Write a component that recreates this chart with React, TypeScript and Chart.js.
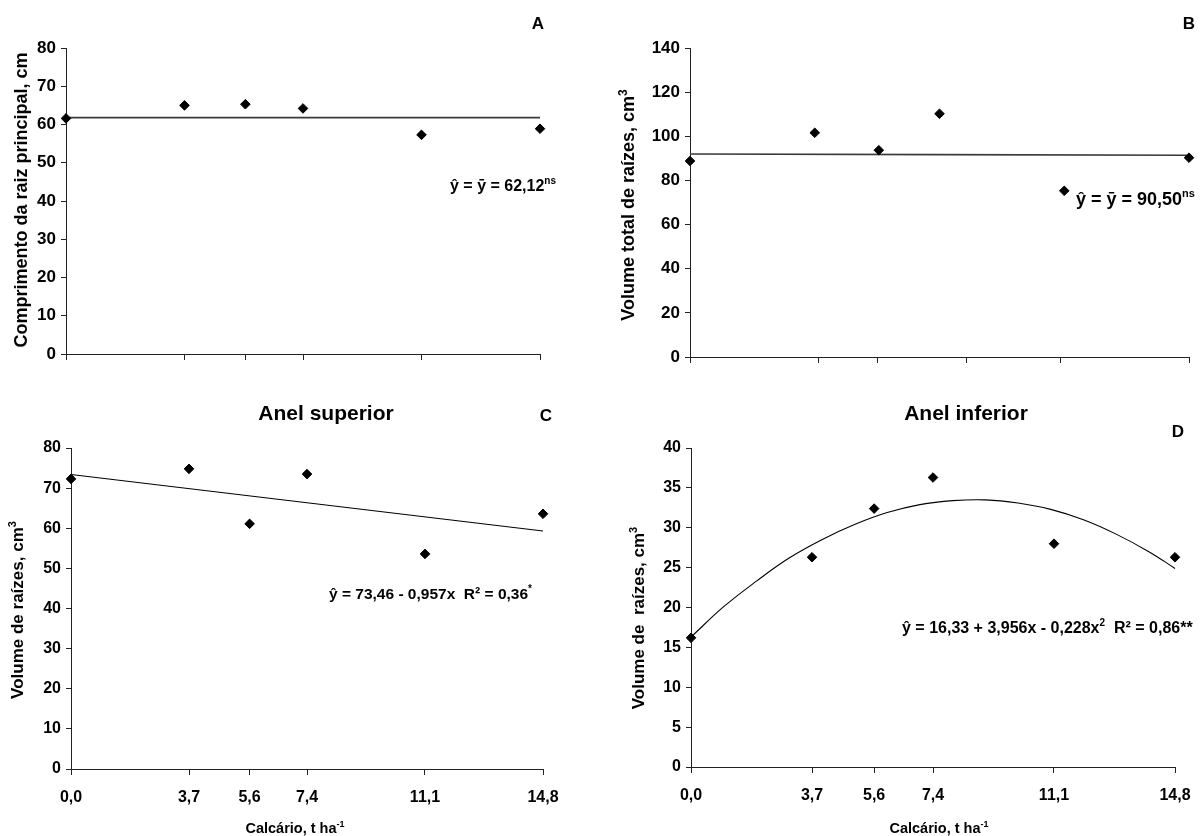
import React, { useEffect, useRef } from "react";
import { Chart, registerables } from "chart.js";
Chart.register(...registerables);

// ---------- data ----------
const doses = [0, 3.7, 5.6, 7.4, 11.1, 14.8];
const doseLabels = ["0,0", "3,7", "5,6", "7,4", "11,1", "14,8"];
const tickPosB = [0, 3.8, 5.55, 8.2, 11.0, 14.8];

const comprimento = [61.6, 65.0, 65.3, 64.2, 57.3, 58.9];
const volumeTotal = [88.8, 101.6, 93.7, 110.2, 75.3, 90.3];
const anelSuperior = [72.3, 74.8, 61.1, 73.5, 53.6, 63.6];
const anelInferior = [16.2, 26.3, 32.4, 36.3, 28.0, 26.3];

const fitAX = [0, 14.8];
const fitAY = [61.8, 61.8];
const fitBX = [0, 14.8];
const fitBY = [92.0, 91.4];
const fitCX = [0, 14.8];
const fitCY = [73.4, 59.3];
const fitDX = [0, 1, 2, 3, 4, 5, 6, 7, 8, 9, 10, 11, 12, 13, 14, 14.8];
const fitDY = [16.3, 20.1, 23.3, 26.2, 28.5, 30.4, 31.9, 32.9, 33.4, 33.5, 33.1, 32.3, 31.0, 29.2, 27.0, 24.9];

const FONT = '"Liberation Sans", Arial, Helvetica, sans-serif';

type Seg = { t: string; s: number; dy?: number };
type TextItem = { segs: Seg[]; x: number; y: number; align: "left" | "center"; rotate?: boolean };

function drawSegs(ctx: CanvasRenderingContext2D, it: TextItem) {
  ctx.save();
  ctx.translate(it.x, it.y);
  if (it.rotate) ctx.rotate(-Math.PI / 2);
  ctx.textBaseline = "alphabetic";
  ctx.textAlign = "left";
  ctx.fillStyle = "#000";
  let total = 0;
  for (const sg of it.segs) {
    ctx.font = `bold ${sg.s}px ${FONT}`;
    total += ctx.measureText(sg.t).width;
  }
  let cx = it.align === "center" ? -total / 2 : 0;
  for (const sg of it.segs) {
    ctx.font = `bold ${sg.s}px ${FONT}`;
    ctx.fillText(sg.t, cx, sg.dy || 0);
    cx += ctx.measureText(sg.t).width;
  }
  ctx.restore();
}

type PanelCfg = {
  x: number; y: number; w: number; h: number;
  area: { l: number; t: number; r: number; b: number };
  yMax: number; yStep: number;
  xTicks: number[]; showXLabels: boolean;
  pts: number[]; fitX: number[]; fitY: number[];
  fitColor: string; fitWidth: number;
  tickSize: number;
  texts: TextItem[];
};

const panels: PanelCfg[] = [
  {
    x: 0, y: 0, w: 600, h: 380,
    area: { l: 66, t: 48, r: 540, b: 354 },
    yMax: 80, yStep: 10, xTicks: doses, showXLabels: false,
    pts: comprimento, fitX: fitAX, fitY: fitAY, fitColor: "#3a3a3a", fitWidth: 1.6,
    tickSize: 17,
    texts: [
      { segs: [{ t: "A", s: 17 }], x: 538, y: 29, align: "center" },
      { segs: [{ t: "ŷ = ȳ = 62,12", s: 16 }, { t: "ns", s: 10, dy: -7 }], x: 450, y: 191, align: "left" },
      { segs: [{ t: "Comprimento da raiz principal, cm", s: 18 }], x: 27, y: 200, align: "center", rotate: true },
    ],
  },
  {
    x: 600, y: 0, w: 604, h: 380,
    area: { l: 90, t: 48, r: 589, b: 357 },
    yMax: 140, yStep: 20, xTicks: tickPosB, showXLabels: false,
    pts: volumeTotal, fitX: fitBX, fitY: fitBY, fitColor: "#3a3a3a", fitWidth: 1.6,
    tickSize: 17,
    texts: [
      { segs: [{ t: "B", s: 17 }], x: 589, y: 29, align: "center" },
      { segs: [{ t: "ŷ = ȳ = 90,50", s: 18 }, { t: "ns", s: 11, dy: -8 }], x: 476, y: 205, align: "left" },
      { segs: [{ t: "Volume total de raízes, cm", s: 18 }, { t: "3", s: 12, dy: -7 }], x: 34, y: 205, align: "center", rotate: true },
    ],
  },
  {
    x: 0, y: 380, w: 600, h: 456,
    area: { l: 71, t: 68, r: 543, b: 389 },
    yMax: 80, yStep: 10, xTicks: doses, showXLabels: true,
    pts: anelSuperior, fitX: fitCX, fitY: fitCY, fitColor: "#000", fitWidth: 1.1,
    tickSize: 16,
    texts: [
      { segs: [{ t: "Anel superior", s: 21 }], x: 326, y: 40, align: "center" },
      { segs: [{ t: "C", s: 17 }], x: 546, y: 41, align: "center" },
      { segs: [{ t: "ŷ = 73,46 - 0,957x  R² = 0,36", s: 15.5 }, { t: "*", s: 10, dy: -7 }], x: 329, y: 219, align: "left" },
      { segs: [{ t: "Volume de raízes, cm", s: 17 }, { t: "3", s: 11, dy: -7 }], x: 23, y: 230, align: "center", rotate: true },
      { segs: [{ t: "Calcário, t ha", s: 14.5 }, { t: "-1", s: 9, dy: -6 }], x: 295, y: 453, align: "center" },
    ],
  },
  {
    x: 600, y: 380, w: 604, h: 456,
    area: { l: 91, t: 68, r: 575, b: 387 },
    yMax: 40, yStep: 5, xTicks: doses, showXLabels: true,
    pts: anelInferior, fitX: fitDX, fitY: fitDY, fitColor: "#000", fitWidth: 1.1,
    tickSize: 16,
    texts: [
      { segs: [{ t: "Anel inferior", s: 21 }], x: 366, y: 40, align: "center" },
      { segs: [{ t: "D", s: 17 }], x: 578, y: 57, align: "center" },
      { segs: [{ t: "ŷ = 16,33 + 3,956x - 0,228x", s: 16 }, { t: "2", s: 10, dy: -7 }, { t: "  R² = 0,86**", s: 16 }], x: 302, y: 253, align: "left" },
      { segs: [{ t: "Volume de  raízes, cm", s: 17 }, { t: "3", s: 11, dy: -7 }], x: 44, y: 238, align: "center", rotate: true },
      { segs: [{ t: "Calcário, t ha", s: 14.5 }, { t: "-1", s: 9, dy: -6 }], x: 339, y: 453, align: "center" },
    ],
  },
];

function Panel({ cfg }: { cfg: PanelCfg }) {
  const ref = useRef<HTMLCanvasElement>(null);
  useEffect(() => {
    const canvas = ref.current;
    if (!canvas) return;
    const { area, w, h } = cfg;
    const textPlugin = {
      id: "panelTexts",
      afterDraw(chart: any) {
        const ctx = chart.ctx as CanvasRenderingContext2D;
        cfg.texts.forEach((t) => drawSegs(ctx, t));
      },
    };
    const chart = new Chart(canvas, {
      type: "scatter",
      data: {
        datasets: [
          {
            data: doses.map((d, i) => ({ x: d, y: cfg.pts[i] })),
            pointStyle: "rectRot",
            pointRadius: 4.8,
            pointBackgroundColor: "#000",
            pointBorderColor: "#000",
            pointBorderWidth: 1,
            showLine: false,
            clip: false as any,
          },
          {
            data: cfg.fitX.map((x, i) => ({ x, y: cfg.fitY[i] })),
            showLine: true,
            borderColor: cfg.fitColor,
            borderWidth: cfg.fitWidth,
            pointRadius: 0,
            tension: 0.4,
            fill: false,
            clip: false as any,
          },
        ],
      },
      options: {
        responsive: false,
        maintainAspectRatio: false,
        animation: false,
        events: [],
        layout: { padding: { left: 0, top: area.t, right: w - area.r, bottom: 0 } },
        plugins: { legend: { display: false }, tooltip: { enabled: false }, title: { display: false } },
        scales: {
          x: {
            type: "linear",
            min: 0,
            max: 14.8,
            afterBuildTicks: (s: any) => {
              s.ticks = cfg.xTicks.map((v) => ({ value: v }));
            },
            afterFit: (s: any) => {
              s.height = h - area.b;
            },
            ticks: {
              display: cfg.showXLabels,
              autoSkip: false,
              maxRotation: 0,
              padding: 13,
              color: "#000",
              font: { family: FONT, size: cfg.tickSize, weight: "bold" },
              callback: (_v: any, i: number) => doseLabels[i],
            },
            grid: { drawOnChartArea: false, drawTicks: true, tickLength: 6, color: "#222", lineWidth: 1 },
            border: { color: "#222", width: 1 },
          },
          y: {
            type: "linear",
            min: 0,
            max: cfg.yMax,
            afterFit: (s: any) => {
              s.width = area.l;
            },
            ticks: {
              stepSize: cfg.yStep,
              padding: 5,
              color: "#000",
              font: { family: FONT, size: cfg.tickSize, weight: "bold" },
            },
            grid: { drawOnChartArea: false, drawTicks: true, tickLength: 5, color: "#222", lineWidth: 1 },
            border: { color: "#222", width: 1 },
          },
        },
      } as any,
      plugins: [textPlugin],
    });
    return () => chart.destroy();
  }, [cfg]);
  return (
    <canvas
      ref={ref}
      width={cfg.w}
      height={cfg.h}
      style={{ position: "absolute", left: cfg.x, top: cfg.y, width: cfg.w, height: cfg.h }}
    />
  );
}

export default function App() {
  return (
    <div style={{ position: "absolute", left: 0, top: 0, width: 1204, height: 836, background: "#fff" }}>
      {panels.map((p, i) => (
        <Panel key={i} cfg={p} />
      ))}
    </div>
  );
}
